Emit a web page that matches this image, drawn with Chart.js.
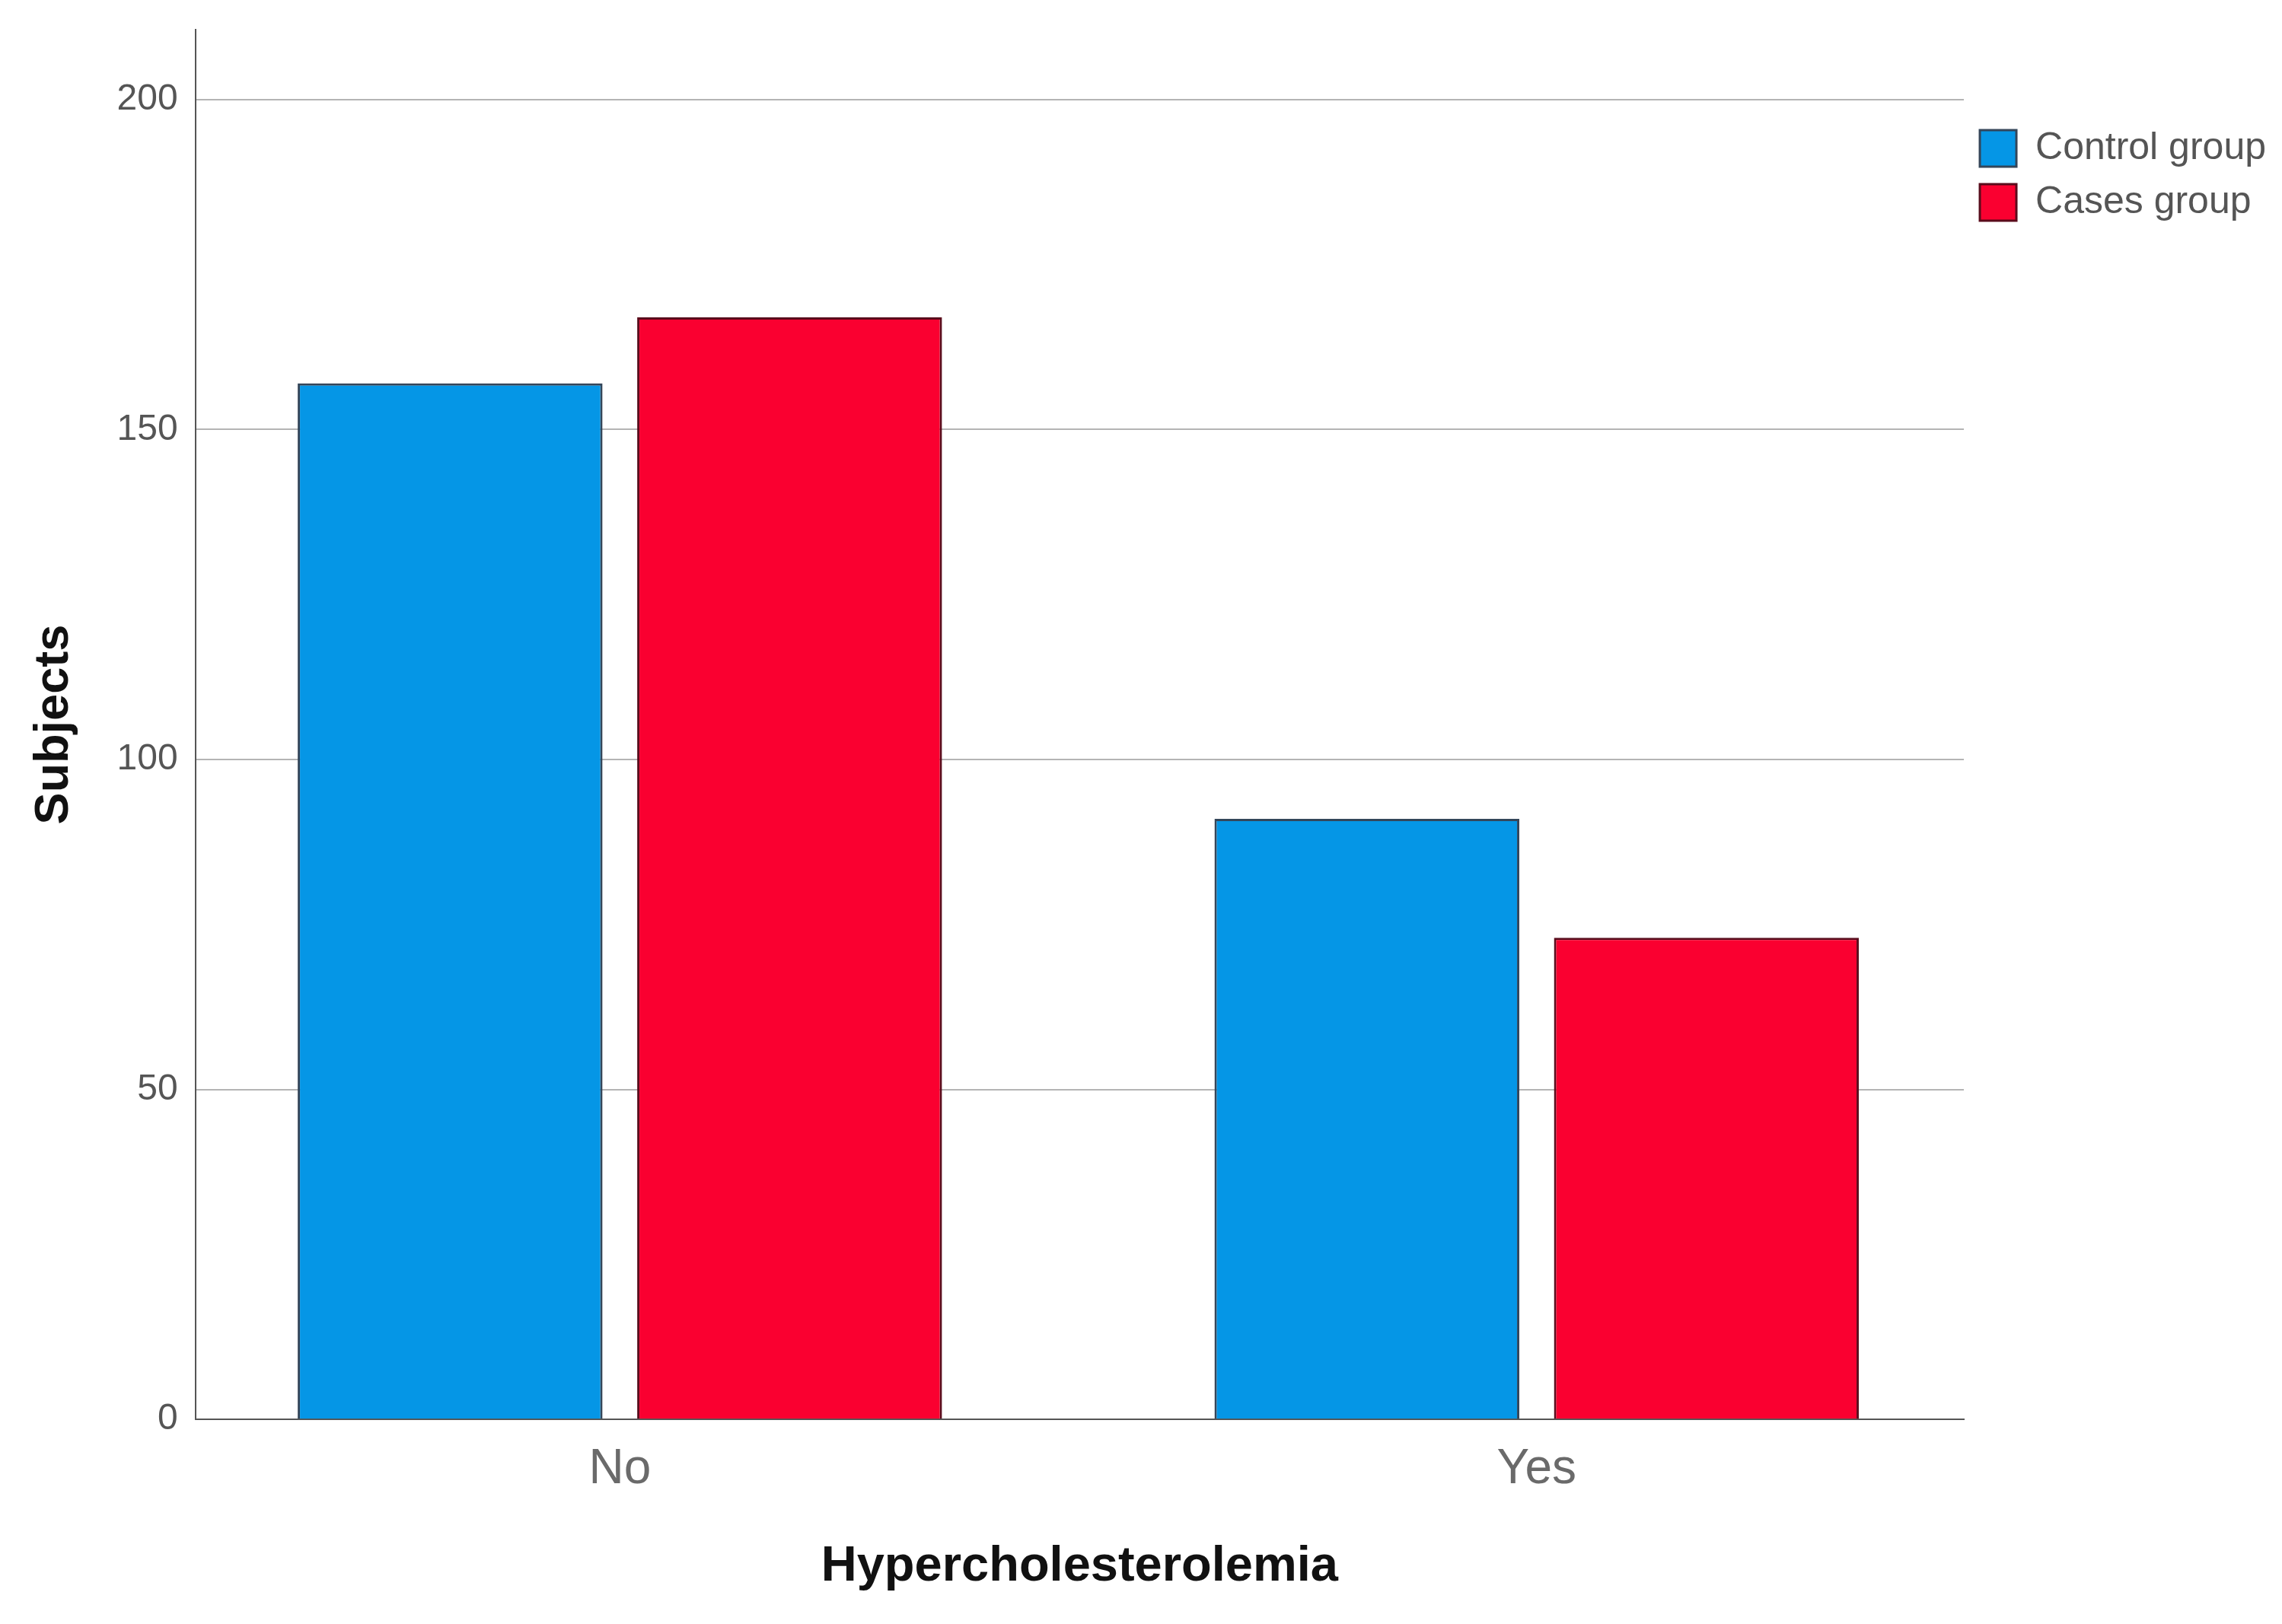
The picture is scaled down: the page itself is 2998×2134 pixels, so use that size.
<!DOCTYPE html>
<html>
<head>
<meta charset="utf-8">
<script src="https://cdn.jsdelivr.net/npm/chart.js@4.4.1/dist/chart.umd.min.js"></script>
<style>
html,body{margin:0;padding:0;background:#fff;}
#wrap{width:2998px;height:2134px;position:relative;}
</style>
</head>
<body>
<div id="wrap"><canvas id="c" width="2998" height="2134"></canvas></div>
<script>
const categories = ['No', 'Yes'];
const seriesNames = ['Control group', 'Cases group'];
const controlValues = [157, 91];
const casesValues = [167, 73];
const yTicks = [0, 50, 100, 150, 200];

const sans = "'Liberation Sans', Arial, sans-serif";

const toPoints = arr => arr.map((v, i) => ({x: i, y: v}));

new Chart(document.getElementById('c'), {
  type: 'bar',
  data: {
    datasets: [
      {label: seriesNames[0], data: toPoints(controlValues), backgroundColor: '#0596E6', borderColor: '#34465a', borderWidth: 3},
      {label: seriesNames[1], data: toPoints(casesValues), backgroundColor: '#FA0030', borderColor: '#5a0c1c', borderWidth: 3}
    ]
  },
  options: {
    responsive: false,
    animation: false,
    devicePixelRatio: 1,
    categoryPercentage: 0.7406,
    barPercentage: 0.898,
    layout: {padding: {left: 8, top: 39, bottom: 8, right: 11}},
    plugins: {
      tooltip: {enabled: false},
      legend: {
        position: 'right',
        align: 'start',
        title: {display: true, text: '', font: {size: 10}, padding: {top: 98, bottom: 0}},
        labels: {
          boxWidth: 48, boxHeight: 48, padding: 21,
          color: '#555', font: {family: sans, size: 50}
        }
      }
    },
    scales: {
      x: {
        type: 'linear',
        offset: false,
        min: -0.463,
        max: 1.466,
        afterBuildTicks: s => { s.ticks = categories.map((c, i) => ({value: i})); },
        ticks: {
          callback: v => categories[v] ?? '',
          color: '#6a6a6a', padding: 28,
          font: {family: sans, size: 64}
        },
        grid: {display: false, drawTicks: false},
        border: {display: true, color: '#555', width: 2},
        title: {display: true, text: 'Hypercholesterolemia', color: '#111',
          font: {family: sans, size: 65, weight: 'bold'}, padding: {top: 22, bottom: 28}}
      },
      y: {
        min: 0,
        max: 210.6,
        afterBuildTicks: s => { s.ticks = yTicks.map(v => ({value: v})); },
        afterFit: s => { s.paddingTop = 0; },
        ticks: {color: '#555', padding: 23, font: {family: sans, size: 48}},
        grid: {color: '#b4b4b4', lineWidth: 2, drawTicks: false},
        border: {display: true, color: '#555', width: 2},
        title: {display: true, text: 'Subjects', color: '#111',
          font: {family: sans, size: 63, weight: 'bold'}, padding: {top: 26, bottom: 21}}
      }
    }
  }
});
</script>
</body>
</html>
